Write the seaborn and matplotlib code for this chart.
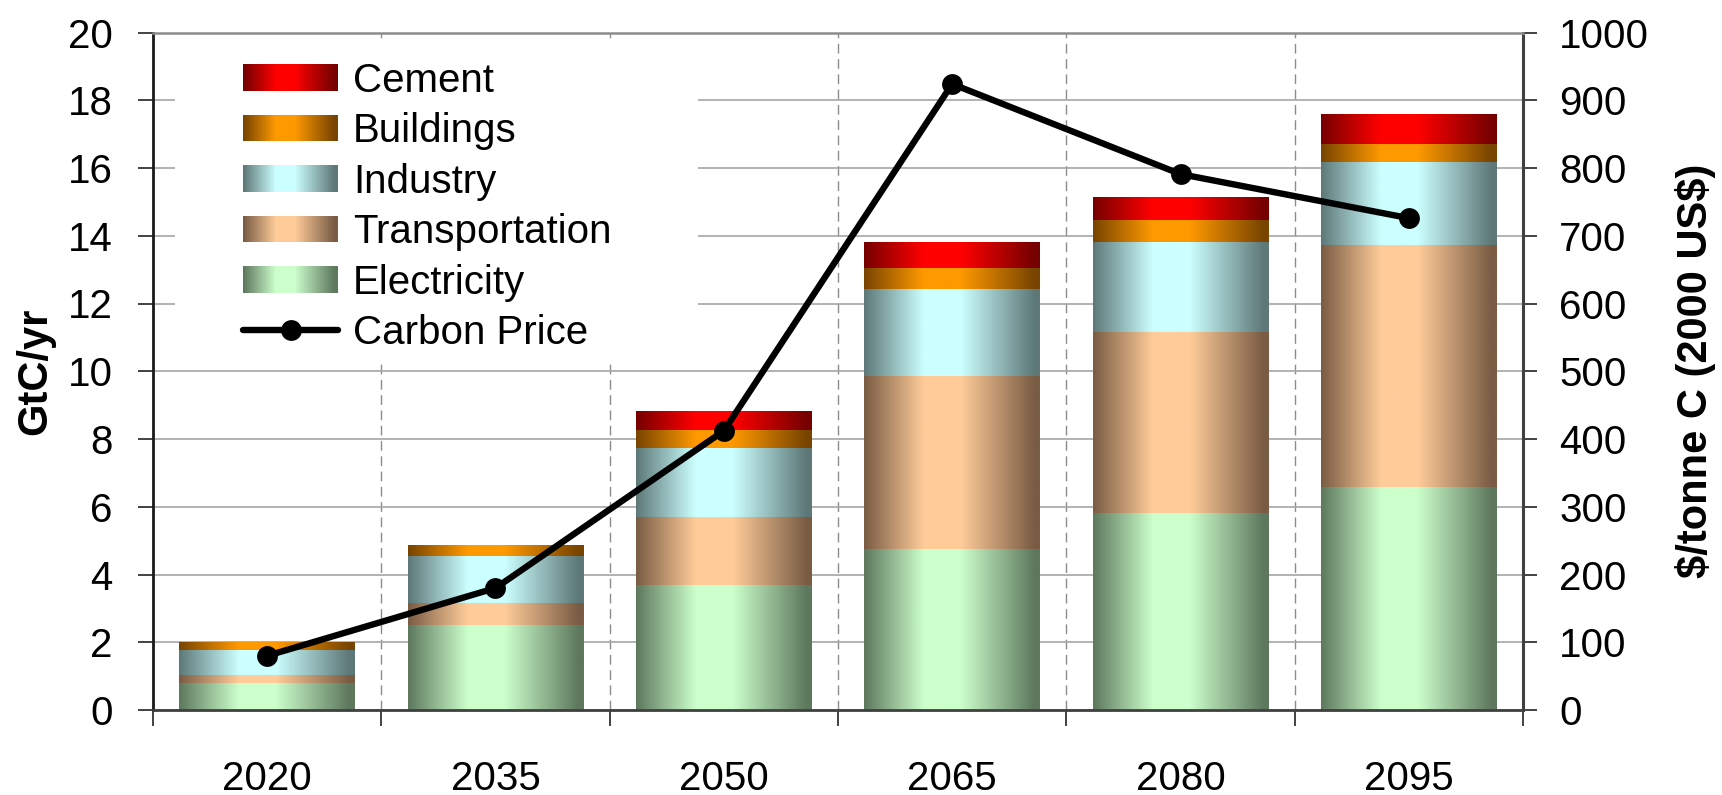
import numpy as np
import matplotlib
matplotlib.use("Agg")
import matplotlib.pyplot as plt
import seaborn as sns
from matplotlib.patches import Rectangle
from matplotlib.lines import Line2D
from matplotlib.legend_handler import HandlerBase
from matplotlib.colors import to_rgb

# Emissions by sector (GtC/yr) and carbon price ($/tonne C, 2000 US$)
years = ["2020", "2035", "2050", "2065", "2080", "2095"]
electricity = [0.80, 2.51, 3.69, 4.76, 5.82, 6.59]
transportation = [0.23, 0.64, 2.01, 5.11, 5.33, 7.13]
industry = [0.74, 1.40, 2.04, 2.57, 2.67, 2.46]
buildings = [0.23, 0.32, 0.53, 0.62, 0.65, 0.53]
cement = [0.00, 0.00, 0.56, 0.77, 0.67, 0.89]
carbon_price = [80, 180, 412, 924, 791, 726]

sectors = ["Electricity", "Transportation", "Industry", "Buildings", "Cement"]
sector_values = [electricity, transportation, industry, buildings, cement]

# (edge shade, centre highlight) for the cylinder-like fills
sector_shades = {
    "Electricity": ("#5e785e", "#ccffcc"),
    "Transportation": ("#7a5c44", "#ffcc99"),
    "Industry": ("#5e7878", "#ccffff"),
    "Buildings": ("#784400", "#ff9900"),
    "Cement": ("#760000", "#ff0000"),
}


def shade_ramp(dark, light, n=256):
    d = np.array(to_rgb(dark))
    l = np.array(to_rgb(light))
    pos = np.linspace(0, 1, n)
    mix = np.interp(pos, [0.0, 0.34, 0.55, 0.97, 1.0], [0, 1, 1, 0, 0])
    return d + (l - d) * mix[:, None]


class ShadeSwatch:
    def __init__(self, dark, light):
        self.dark, self.light = dark, light


class ShadeSwatchHandler(HandlerBase):
    def create_artists(self, legend, orig_handle, xdescent, ydescent,
                       width, height, fontsize, trans):
        cols = shade_ramp(orig_handle.dark, orig_handle.light, 48)
        n = len(cols)
        h = height * 0.95
        y0 = -ydescent + (height - h) / 2
        step = width / n
        arts = []
        for i, c in enumerate(cols):
            w = step * (1.08 if i < n - 1 else 1.0)
            arts.append(Rectangle((-xdescent + i * step, y0), w, h,
                                  facecolor=c, edgecolor="none", lw=0,
                                  transform=trans))
        return arts


sns.set_theme(style="white")
plt.rcParams["font.family"] = ["Liberation Sans", "DejaVu Sans"]
plt.rcParams.update({"text.color": "black", "axes.labelcolor": "black",
                     "xtick.color": "black", "ytick.color": "black"})

fig = plt.figure(figsize=(17.22, 7.95), dpi=100, facecolor="white")
ax = fig.add_axes([153 / 1722, 1 - 710 / 795, 1370 / 1722, 677.5 / 795])

# Stacked bars: draw cumulative totals from the top layer down,
# each filled with a horizontal shading ramp
stack_tops = np.cumsum(np.array(sector_values, dtype=float), axis=0)
for rank, level in enumerate(range(len(sectors) - 1, -1, -1)):
    name = sectors[level]
    start = len(ax.patches)
    sns.barplot(x=years, y=stack_tops[level], ax=ax, width=0.77,
                color="white", saturation=1, zorder=2 + rank * 0.1)
    ramp = shade_ramp(*sector_shades[name])[None, :, :]
    for bar in ax.patches[start:]:
        bar.set_facecolor("none")
        bar.set_edgecolor("none")
        x0, w, h = bar.get_x(), bar.get_width(), bar.get_height()
        img = ax.imshow(ramp, extent=(x0, x0 + w, 0, h), aspect="auto",
                        interpolation="bilinear", origin="lower",
                        zorder=2 + rank * 0.1 + 0.05)
        img.set_clip_path(bar)

# Carbon price on the secondary axis
ax2 = ax.twinx()
sns.pointplot(x=years, y=carbon_price, ax=ax2, color="black", markers="o",
              markersize=15, linewidth=4.6, errorbar=None)
for ln in ax2.lines:
    ln.set_markeredgewidth(0)

# Axes limits and ticks
ax.set_xlim(-0.5, len(years) - 0.5)
ax.set_ylim(0, 20)
ax.set_yticks(np.arange(0, 21, 2))
ax.set_xticks(range(len(years)), years)
ax.set_xticks(np.arange(-0.5, len(years)), minor=True)
ax2.set_ylim(0, 1000)
ax2.set_yticks(np.arange(0, 1001, 100))

ax.tick_params(axis="y", which="major", direction="out", left=True,
               length=11, width=1.2, color="#222222", pad=18, labelsize=29,
               labelcolor="black")
ax.tick_params(axis="x", which="major", bottom=True, length=0, pad=36,
               labelsize=29, labelcolor="black")
ax.tick_params(axis="x", which="minor", bottom=True, direction="out",
               length=11.5, width=1.2, color="#222222")
ax2.tick_params(axis="y", which="major", direction="out", right=True,
                length=10, width=1.2, color="#222222", pad=16, labelsize=29,
                labelcolor="black")

# Grid: solid horizontal lines, dashed category separators
ax.set_axisbelow(True)
ax.grid(False)
ax.grid(axis="y", which="major", color="#a6a6a6", lw=1.2)
ax.grid(axis="x", which="minor", color="#8c8c8c", lw=1.0, ls=(0, (7, 4)))
ax2.grid(False)

# White plate behind the legend
ax.add_patch(Rectangle((0.016, 0.517), 0.382, 0.473, transform=ax.transAxes,
                       facecolor="white", edgecolor="none", zorder=1))

# Frame
for s in ax.spines.values():
    s.set_visible(False)
ax2.spines["left"].set(color="#1a1a1a", lw=2)
ax2.spines["bottom"].set(color="#404040", lw=2)
ax2.spines["right"].set(color="#404040", lw=2.2)
ax2.spines["top"].set(color="#8c8c8c", lw=1.8)

ax.set_xlabel("")
ax.set_ylabel("GtC/yr", fontsize=30, fontweight="bold", labelpad=9,
              color="black")
ax2.set_ylabel(r"\$/tonne C (2000 US\$)", fontsize=30, fontweight="bold",
               labelpad=19, rotation=90, color="black")

# Legend
handles = [ShadeSwatch(*sector_shades[s]) for s in reversed(sectors)]
handles.append(Line2D([], [], color="black", lw=4.6, marker="o",
                      markersize=15, markeredgewidth=0))
labels = list(reversed(sectors)) + ["Carbon Price"]
leg = ax2.legend(handles, labels,
                 handler_map={ShadeSwatch: ShadeSwatchHandler()},
                 loc="upper left", bbox_to_anchor=(0.0657, 0.957),
                 borderaxespad=0, borderpad=0, frameon=False, fontsize=29,
                 handlelength=2.36, handletextpad=0.37, labelspacing=0.31)
for t in leg.get_texts():
    t.set_color("black")

fig.savefig("out.png", dpi=100, facecolor="white")
